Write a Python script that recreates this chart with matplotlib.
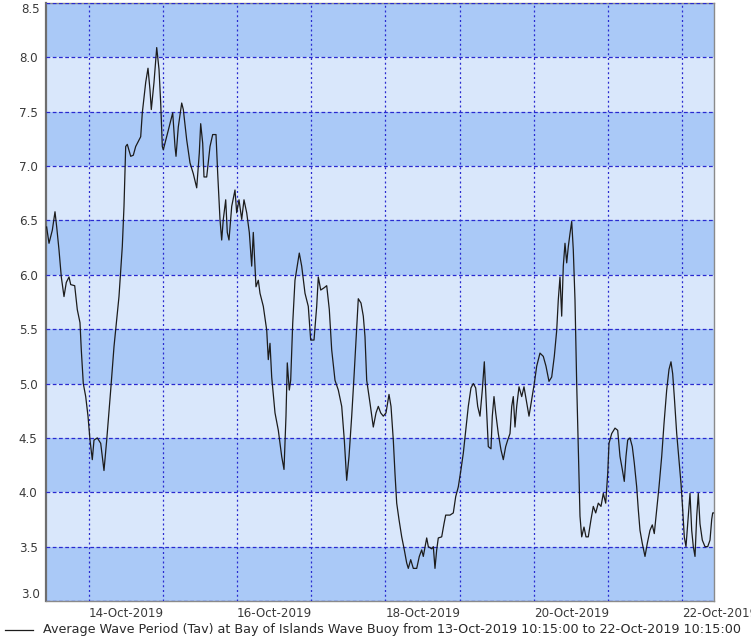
import datetime as dt
import matplotlib
matplotlib.use("Agg")
import matplotlib.pyplot as plt
import matplotlib.dates as mdates
from matplotlib.ticker import FuncFormatter, MultipleLocator
from matplotlib.transforms import offset_copy

# Average wave period (Tav) samples: hours after the series start, and seconds
start_time = dt.datetime(2019, 10, 13, 10, 15)
end_time = dt.datetime(2019, 10, 22, 10, 15)

hours_after_start = [
    0.2, 0.97, 2.04, 2.91, 3.46, 4.2, 4.95, 5.82, 6.56, 7.44, 7.99, 9.28, 10.12, 10.99,
    11.41, 12.06, 12.84, 13.58, 14.23, 14.97, 15.52, 16.59, 17.69, 18.75, 19.63, 20.92,
    21.99, 23.6, 24.67, 25.22, 25.77, 26.29, 27.39, 28.23, 29.0, 30.62, 31.14, 32.24,
    32.98, 33.63, 34.05, 34.92, 35.8, 36.54, 37.09, 37.61, 37.93, 38.48, 39.55, 40.97,
    41.71, 42.04, 42.78, 43.88, 44.4, 45.5, 46.56, 47.63, 48.73, 49.57, 50.02, 50.67,
    51.09, 51.96, 53.03, 53.9, 54.97, 55.52, 56.26, 56.81, 57.33, 58.11, 58.62, 59.17,
    60.05, 61.11, 61.66, 62.41, 63.28, 64.02, 64.9, 65.74, 66.51, 67.03, 67.9, 68.65,
    69.2, 70.27, 71.37, 71.88, 72.43, 72.98, 74.05, 75.12, 76.21, 76.96, 77.6, 78.02,
    78.67, 79.12, 79.77, 80.51, 81.9, 82.68, 83.75, 84.81, 85.59, 86.66, 87.53, 88.05,
    88.83, 89.89, 90.77, 91.61, 92.38, 93.45, 94.52, 95.62, 96.46, 97.23, 97.98, 98.85,
    99.59, 100.24, 100.98, 101.86, 102.6, 103.15, 103.7, 104.77, 105.83, 106.71, 107.45,
    108.23, 109.07, 109.94, 110.91, 111.56, 112.3, 112.85, 113.4, 114.14, 115.02, 115.86,
    116.63, 117.15, 117.93, 118.77, 119.87, 120.71, 121.48, 122.0, 123.1, 123.62, 124.72,
    125.24, 125.78, 126.33, 126.85, 127.95, 128.69, 129.24, 130.63, 131.7, 132.48, 133.32,
    134.19, 134.94, 135.71, 136.55, 137.42, 138.17, 138.94, 139.59, 140.33, 141.08,
    141.73, 142.27, 143.02, 143.89, 144.31, 144.86, 145.41, 146.25, 147.12, 147.87,
    148.64, 149.29, 150.04, 150.59, 151.1, 151.65, 152.2, 152.95, 153.82, 154.56, 155.44,
    156.18, 157.05, 157.89, 158.67, 159.73, 160.8, 161.67, 162.64, 163.52, 164.36, 165.14,
    165.65, 166.2, 166.75, 167.27, 167.82, 168.37, 168.89, 169.44, 169.99, 170.5, 171.05,
    171.6, 172.12, 172.67, 173.22, 173.96, 174.61, 175.35, 176.23, 176.97, 177.75, 178.59,
    179.46, 180.2, 180.98, 181.63, 182.05, 182.92, 183.99, 184.86, 185.6, 186.35, 186.99,
    187.54, 188.09, 188.83, 189.58, 190.22, 191.0, 191.52, 192.07, 192.81, 193.69, 194.43,
    195.3, 196.05, 196.69, 197.47, 198.22, 199.09, 199.83, 200.7, 201.45, 202.09, 202.64,
    203.16, 203.94, 204.68, 205.33, 205.88, 206.39, 206.94, 207.69, 208.24, 208.79,
    209.31, 209.86, 210.41, 210.92, 211.47, 212.22, 213.09, 213.96, 214.71, 215.26,
    215.58, 216.0,
]

wave_period = [
    6.44, 6.29, 6.41, 6.58, 6.44, 6.23, 5.98, 5.80, 5.93, 5.98, 5.91, 5.90, 5.68, 5.56,
    5.31, 5.00, 4.88, 4.70, 4.48, 4.30, 4.48, 4.50, 4.45, 4.20, 4.48, 4.94,
    5.34, 5.80, 6.26, 6.63, 7.18, 7.20, 7.09, 7.10, 7.18, 7.27, 7.49, 7.77,
    7.90, 7.70, 7.52, 7.77, 8.09, 7.89, 7.58, 7.18, 7.15, 7.21, 7.33, 7.49,
    7.18, 7.09, 7.36, 7.58, 7.52, 7.24, 7.03, 6.93, 6.80, 7.12, 7.39, 7.21,
    6.90, 6.90, 7.18, 7.29, 7.29, 6.93, 6.51, 6.32, 6.51, 6.69, 6.39, 6.32,
    6.63, 6.78, 6.57, 6.69, 6.51, 6.69, 6.57, 6.39, 6.08, 6.39, 5.89, 5.95,
    5.83, 5.71, 5.49, 5.22, 5.37, 5.06, 4.73, 4.57, 4.33, 4.21, 4.70, 5.19,
    4.94, 5.03, 5.55, 5.95, 6.20, 6.08, 5.83, 5.71, 5.40, 5.40, 5.71, 5.98,
    5.86, 5.88, 5.90, 5.68, 5.31, 5.03, 4.94, 4.79, 4.48, 4.11, 4.33, 4.70,
    5.06, 5.40, 5.78, 5.74, 5.62, 5.43, 5.03, 4.82, 4.60, 4.73, 4.79,
    4.73, 4.70, 4.73, 4.90, 4.79, 4.48, 4.17, 3.90, 3.75, 3.59, 3.47,
    3.35, 3.30, 3.38, 3.30, 3.30, 3.41, 3.47, 3.41, 3.58, 3.50, 3.48,
    3.50, 3.30, 3.47, 3.58, 3.59, 3.71, 3.79, 3.79, 3.81, 3.96, 4.05,
    4.21, 4.36, 4.57, 4.79, 4.96, 5.00, 4.96, 4.79, 4.70, 4.94,
    5.20, 4.88, 4.42, 4.40, 4.70, 4.88, 4.73, 4.54, 4.39, 4.30,
    4.42, 4.48, 4.54, 4.79, 4.88, 4.60, 4.79, 4.97, 4.88, 4.97, 4.82,
    4.70, 4.85, 5.00, 5.16, 5.28, 5.25, 5.16, 5.02, 5.06, 5.25, 5.49,
    5.77, 5.98, 5.62, 6.08, 6.29, 6.11, 6.26, 6.38, 6.49, 6.23, 5.77,
    5.00, 4.42, 3.78, 3.59, 3.68, 3.59, 3.59, 3.75, 3.87, 3.81, 3.90,
    3.87, 3.99, 3.90, 4.17, 4.45, 4.54, 4.59, 4.57, 4.33, 4.21, 4.10,
    4.33, 4.48, 4.50, 4.42, 4.27, 4.05, 3.84, 3.65, 3.53, 3.41, 3.53,
    3.65, 3.70, 3.62, 3.84, 4.05, 4.33, 4.63, 4.94, 5.13, 5.20, 5.09,
    4.88, 4.54, 4.30, 4.08, 3.84, 3.59, 3.50, 3.78, 3.99, 3.65,
    3.50, 3.41, 3.78, 3.99, 3.71, 3.56, 3.50, 3.50, 3.56, 3.75,
    3.81, 3.81,
]

y_min, y_max, y_step = 3.0, 8.5, 0.5
legend_text = ("Average Wave Period (Tav) at Bay of Islands Wave Buoy from "
               "13-Oct-2019 10:15:00 to 22-Oct-2019 10:15:00")

times = [start_time + dt.timedelta(hours=h) for h in hours_after_start]

plt.rcParams["font.family"] = ["DejaVu Sans"]
fig = plt.figure(figsize=(7.51, 6.40), dpi=100)
ax = fig.add_axes([46 / 751, 1 - 601 / 640, 668 / 751, 598 / 640])

# Alternating horizontal bands behind the data
dark_band, light_band = "#aac9f7", "#d9e7fb"
n_bands = int(round((y_max - y_min) / y_step))
for i in range(n_bands):
    lo = y_min + i * y_step
    ax.axhspan(lo, lo + y_step, color=dark_band if i % 2 == 0 else light_band,
               lw=0, zorder=0)

ax.plot(times, wave_period, color="#1c1c1c", lw=0.9, zorder=3)

ax.set_xlim(start_time, end_time)
ax.set_ylim(y_min, y_max)

# Day grid, labels on every second day, left-aligned at the grid line
ax.xaxis.set_major_locator(mdates.DayLocator())
ax.xaxis.set_major_formatter(FuncFormatter(
    lambda x, pos: mdates.num2date(x).strftime("%d-%b-%Y")
    if mdates.num2date(x).day % 2 == 0 else ""))

# Value labels; the two end labels are drawn separately, nudged inside the frame
ax.yaxis.set_major_locator(MultipleLocator(y_step))
ax.yaxis.set_major_formatter(FuncFormatter(
    lambda v, pos: "" if abs(v - y_min) < 1e-6 or abs(v - y_max) < 1e-6 else f"{v:.1f}"))

label_size = 8.6
label_color = "#3a3a3a"
ytrans = offset_copy(ax.get_yaxis_transform(), fig=fig, x=-6, y=0, units="dots")
ax.text(0, y_max, f"{y_max:.1f}", transform=ytrans, ha="right", va="top",
        fontsize=label_size, color=label_color)
ax.text(0, y_min, f"{y_min:.1f}", transform=ytrans, ha="right", va="bottom",
        fontsize=label_size, color=label_color)

grid_blue = "#2a2ad0"
ax.grid(axis="y", color=grid_blue, lw=0.9, linestyle=(0, (3, 2)), zorder=1)
ax.grid(axis="x", color=grid_blue, lw=0.9, linestyle=(0, (1.6, 2.2)), zorder=1)
ax.set_axisbelow(False)

ax.tick_params(axis="both", length=0, labelsize=label_size, colors=label_color)
ax.tick_params(axis="x", pad=4)
ax.tick_params(axis="y", pad=6)
for lbl in ax.get_xticklabels():
    lbl.set_horizontalalignment("left")

for side, spine in ax.spines.items():
    spine.set_color("#8a8a8a")
    spine.set_linewidth(1.0)
ax.spines["left"].set_linewidth(1.6)
ax.spines["left"].set_color("#6e6e6e")

# Series key underneath the axis labels
key_y = 1 - 630 / 640
fig.add_artist(plt.Line2D([5 / 751, 33 / 751], [key_y, key_y],
                          color="#1c1c1c", lw=0.9))
fig.text(43 / 751, key_y, legend_text, fontsize=9.2, color="#2a2a2a",
         va="center", ha="left")

fig.savefig("out.png", dpi=100)
